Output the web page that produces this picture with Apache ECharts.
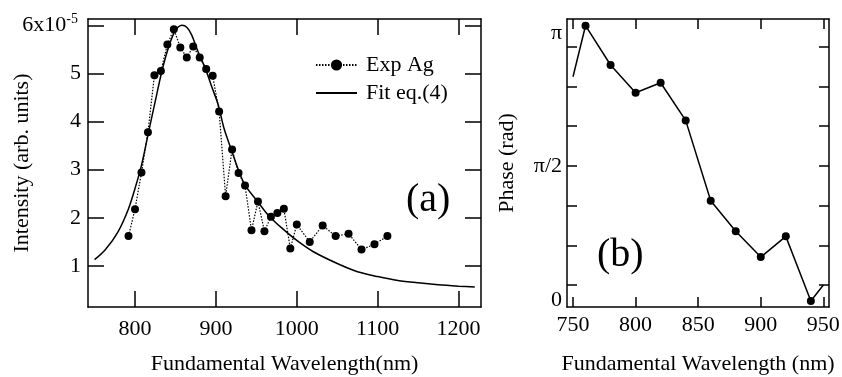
<!DOCTYPE html>
<html>
<head>
<meta charset="utf-8">
<script src="https://cdn.jsdelivr.net/npm/echarts@6/dist/echarts.min.js"></script>
<style>
  html, body { margin: 0; padding: 0; background: #fff; }
  #chart { width: 842px; height: 377px; }
</style>
</head>
<body>
<div id="chart"></div>
<script>
// ---- Data (intensity in units of 1e-5) ----
const expWavelength = [792, 800, 808, 816, 824, 832, 840, 848, 856, 864, 872, 880, 888, 896, 904, 912, 920, 928, 936, 944, 952, 960, 968, 976, 984, 992, 1000, 1016, 1032, 1048, 1064, 1080, 1096, 1112];
const expIntensity  = [1.62, 2.18, 2.94, 3.78, 4.96, 5.05, 5.60, 5.92, 5.54, 5.33, 5.56, 5.33, 5.09, 4.95, 4.21, 2.45, 3.42, 2.93, 2.67, 1.74, 2.34, 1.72, 2.02, 2.10, 2.19, 1.36, 1.86, 1.50, 1.84, 1.62, 1.67, 1.34, 1.45, 1.62];

const fitWavelength = [750, 763, 779, 792, 800, 808, 816, 825, 833, 841, 850, 858, 864, 870, 878, 887, 895, 903, 910, 920, 928, 936, 952, 965, 982, 1000, 1020, 1050, 1075, 1100, 1125, 1150, 1175, 1200, 1220];
const fitIntensity  = [1.13, 1.33, 1.71, 2.19, 2.61, 3.09, 3.72, 4.42, 5.03, 5.52, 5.90, 6.00, 5.96, 5.80, 5.45, 5.10, 4.72, 4.34, 3.86, 3.37, 2.99, 2.68, 2.33, 2.05, 1.78, 1.53, 1.30, 1.05, 0.88, 0.78, 0.70, 0.65, 0.61, 0.58, 0.56];

const phaseWavelength = [750, 760, 780, 800, 820, 840, 860, 880, 900, 920, 940, 950];
const phaseValue      = [2.63, 3.231, 2.768, 2.442, 2.559, 2.116, 1.170, 0.809, 0.506, 0.750, -0.012, 0.177];

// ---- Ticks ----
const intensityTicks = [1, 2, 3, 4, 5, 6];
const wavelengthTicksA = [800, 900, 1000, 1100, 1200];
const wavelengthTicksB = [750, 800, 850, 900, 950];
const phaseLabelValues = [0, Math.PI / 2, Math.PI];
const phaseLabelTexts  = ['0', 'π/2', 'π'];
const phaseTicks = [0.177, 0.644, 1.107, 1.582, 2.049, 2.512, 2.983];

const FONT = "'Liberation Serif', 'Times New Roman', serif";
const black = '#000';

const chart = echarts.init(document.getElementById('chart'), null, { renderer: 'canvas' });

function zip(xs, ys) { return xs.map((x, i) => [x, ys[i]]); }

const lineAxis = { show: true, onZero: false, lineStyle: { color: black, width: 1.5 } };

function xAxisDef(grid, pos, min, max, ticks, tickLen, showLabel, margin, name) {
  return {
    gridIndex: grid, type: 'value', position: pos, min: min, max: max,
    axisLine: lineAxis,
    axisTick: { show: true, inside: true, length: tickLen, customValues: ticks, lineStyle: { color: black, width: 1.5 } },
    axisLabel: showLabel ? {
      show: true, customValues: ticks, margin: margin, color: black, fontSize: 22, fontFamily: FONT,
      formatter: function (v) { return String(Math.round(v)); }
    } : { show: false },
    splitLine: { show: false },
    name: name || '', nameLocation: 'middle', nameGap: 46,
    nameTextStyle: { color: black, fontSize: 22, fontFamily: FONT }
  };
}

const option = {
  animation: false,
  backgroundColor: '#fff',
  grid: [
    { left: 88, top: 19, width: 393, height: 288, containLabel: false, outerBoundsMode: 'none' },
    { left: 567, top: 19, width: 262, height: 288, containLabel: false, outerBoundsMode: 'none' }
  ],
  xAxis: [
    xAxisDef(0, 'bottom', 741.9, 1227.7, wavelengthTicksA, 16, true, 11, 'Fundamental Wavelength(nm)'),
    xAxisDef(0, 'top', 741.9, 1227.7, wavelengthTicksA, 16, false),
    xAxisDef(1, 'bottom', 745.2, 954.5, wavelengthTicksB, 10, true, 7, 'Fundamental Wavelength (nm)'),
    xAxisDef(1, 'top', 745.2, 954.5, wavelengthTicksB, 10, false)
  ],
  yAxis: [
    {
      gridIndex: 0, type: 'value', position: 'left', min: 0.147, max: 6.131,
      axisLine: lineAxis,
      axisTick: { show: true, inside: true, length: 16, customValues: intensityTicks, lineStyle: { color: black, width: 1.5 } },
      axisLabel: {
        show: true, customValues: intensityTicks, margin: 7, color: black, fontSize: 22, fontFamily: FONT,
        formatter: function (v) { return Math.abs(v - 6) < 1e-6 ? '6x10{sup|-5}' : String(Math.round(v)); },
        rich: { sup: { fontSize: 14, fontFamily: FONT, color: black, verticalAlign: 'top', padding: [0, 3, 12, 0] } }
      },
      splitLine: { show: false },
      name: 'Intensity (arb. units)', nameLocation: 'middle', nameGap: 55, nameMoveOverlap: false,
      nameTextStyle: { color: black, fontSize: 22, fontFamily: FONT }
    },
    {
      gridIndex: 0, type: 'value', position: 'right', min: 0.147, max: 6.131,
      axisLine: lineAxis,
      axisTick: { show: true, inside: true, length: 16, customValues: intensityTicks, lineStyle: { color: black, width: 1.5 } },
      axisLabel: { show: false }, splitLine: { show: false }
    },
    {
      gridIndex: 1, type: 'value', position: 'left', min: -0.082, max: 3.31,
      axisLine: lineAxis,
      axisTick: { show: true, inside: true, length: 10, customValues: phaseTicks, lineStyle: { color: black, width: 1.5 } },
      axisLabel: {
        show: true, customValues: phaseLabelValues, margin: 5, color: black, fontSize: 22, fontFamily: FONT,
        formatter: function (v) {
          for (let i = 0; i < phaseLabelValues.length; i++) if (Math.abs(v - phaseLabelValues[i]) < 1e-4) return phaseLabelTexts[i];
          return '';
        }
      },
      splitLine: { show: false },
      name: 'Phase (rad)', nameLocation: 'middle', nameGap: 49,
      nameTextStyle: { color: black, fontSize: 22, fontFamily: FONT }
    },
    {
      gridIndex: 1, type: 'value', position: 'right', min: -0.082, max: 3.31,
      axisLine: lineAxis,
      axisTick: { show: true, inside: true, length: 10, customValues: phaseTicks, lineStyle: { color: black, width: 1.5 } },
      axisLabel: { show: false }, splitLine: { show: false }
    }
  ],
  legend: {
    left: 315, top: 54, padding: 0, orient: 'vertical', itemWidth: 41, itemHeight: 14, itemGap: 6,
    textStyle: { color: black, fontSize: 22, fontFamily: FONT, padding: [0, 0, 0, 4] },
    data: [
      { name: 'Exp Ag' },
      { name: 'Fit eq.(4)', itemStyle: { opacity: 0 } }
    ]
  },
  series: [
    {
      name: 'Exp Ag', type: 'line', xAxisIndex: 0, yAxisIndex: 0,
      data: zip(expWavelength, expIntensity),
      symbol: 'circle', symbolSize: 8,
      itemStyle: { color: black },
      lineStyle: { color: black, width: 1.2, type: [1.5, 1.5] },
      z: 3
    },
    {
      name: 'Fit eq.(4)', type: 'line', xAxisIndex: 0, yAxisIndex: 0,
      data: zip(fitWavelength, fitIntensity),
      symbol: 'none', smooth: 0.3,
      itemStyle: { color: black },
      lineStyle: { color: black, width: 1.5 },
      z: 2
    },
    {
      name: 'Phase', type: 'line', xAxisIndex: 2, yAxisIndex: 2,
      data: phaseWavelength.map((x, i) => ({
        value: [x, phaseValue[i]],
        symbol: (i === 0 || i === phaseWavelength.length - 1) ? 'none' : 'circle'
      })),
      symbolSize: 8,
      itemStyle: { color: black },
      lineStyle: { color: black, width: 1.5 }
    }
  ],
  graphic: [
    { type: 'text', left: 406, top: 180, style: { text: '(a)', fontSize: 40, fontFamily: FONT, fill: black } },
    { type: 'text', left: 597, top: 235, style: { text: '(b)', fontSize: 40, fontFamily: FONT, fill: black } }
  ]
};

chart.setOption(option);
</script>
</body>
</html>
